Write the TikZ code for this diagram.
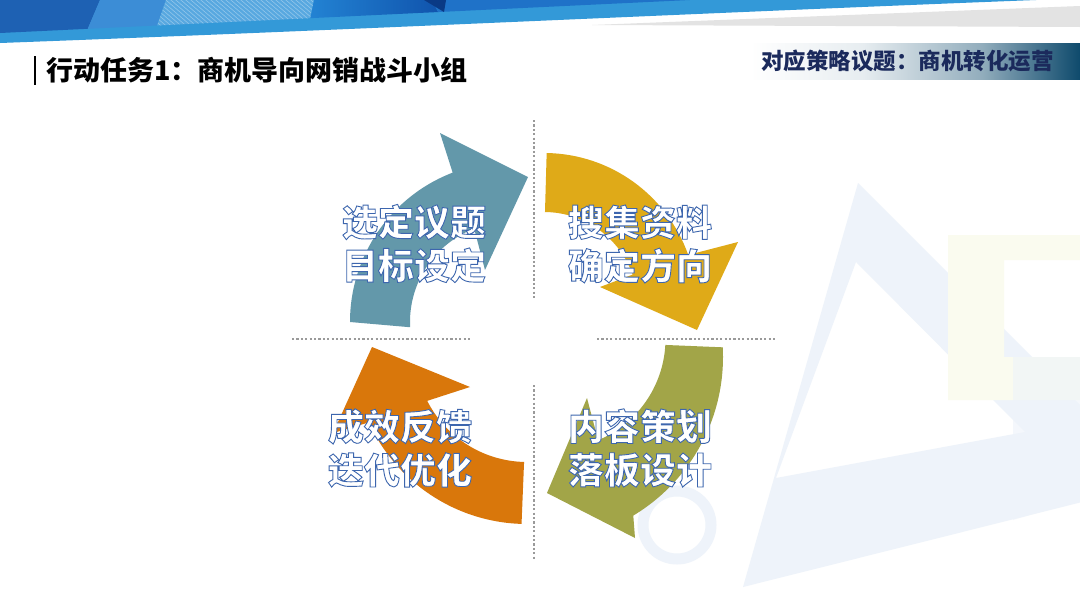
\documentclass[tikz,border=0pt]{standalone}
\usepackage{fontspec}
\newfontfamily\cjk{Noto Sans CJK SC}
\definecolor{cblue}{HTML}{6398AA}
\definecolor{cgold}{HTML}{DFAA18}
\definecolor{colive}{HTML}{A2A548}
\definecolor{corange}{HTML}{D9770B}
\definecolor{cban}{HTML}{3399D8}
\definecolor{pa}{HTML}{1E61B3}
\definecolor{pb}{HTML}{3C8DD6}
\definecolor{pc}{HTML}{58A8E0}
\definecolor{pda}{HTML}{2384D4}
\definecolor{pdb}{HTML}{0E4FA9}
\definecolor{pe}{HTML}{0A3A85}
\definecolor{pf}{HTML}{1F72C8}
\definecolor{cgray}{HTML}{E3E3E3}
\definecolor{hdrc}{HTML}{0E4A6C}
\definecolor{chdr}{HTML}{1B2A5C}
\definecolor{cdot}{HTML}{9A9A9A}
\definecolor{cwm}{HTML}{EEF3FA}
\definecolor{cwmy}{HTML}{FAFBEF}
\pgfdeclarehorizontalshading{hdrshade}{100bp}{color(0bp)=(white); color(25bp)=(white); color(42bp)=(hdrc!10!white); color(60bp)=(hdrc!45!white); color(75bp)=(hdrc); color(100bp)=(hdrc)}
% outlined text: white fill, blue stroke (text render mode 2)
\newcommand\outlon{\special{pdf:literal direct 0.239 0.40 0.682 RG 2 Tr 0.9 w}}
\newcommand\outloff{\special{pdf:literal direct 0 Tr}}
\tikzset{
  dotline/.style={draw=cdot, line width=2.6pt, dash pattern=on 2.2pt off 2.2pt},
  watext/.style={font={\cjk\bfseries\fontsize{36}{43.5}\selectfont}, align=center, inner sep=0pt, text=white},
  hatchline/.style={draw=white, draw opacity=0.35, line width=0.6pt},
}
\begin{document}
\begin{tikzpicture}[x=1pt,y=-1pt]
\useasboundingbox (0,0) rectangle (1080,608);
\fill[white] (0,0) rectangle (1080,608);

% ---------- top banner ----------
\begin{scope}
  \clip (0,0) -- (1036,0) .. controls (700,13) and (350,30) .. (0,43) -- cycle;
  \fill[cban] (0,0) rectangle (1080,50);
  \begin{scope}
    \clip (0,0) -- (690,0) -- (0,33) -- cycle;
    \fill[pa] (0,0) -- (100,0) -- (83,40) -- (0,40) -- cycle;
    \fill[pb] (100,0) -- (166,0) -- (152,40) -- (83,40) -- cycle;
    \begin{scope}
      \clip (166,0) -- (314,0) -- (306,40) -- (152,40) -- cycle;
      \fill[pc] (150,0) rectangle (320,40);
      \foreach \i in {100,105,...,330} \draw[hatchline] (\i,-5) -- ++(47,40);
    \end{scope}
    \shade[left color=pda, right color=pdb] (314,0) -- (432,0) -- (452,40) -- (306,40) -- cycle;
    \fill[pf] (432,0) -- (690,0) -- (690,40) -- (452,40) -- cycle;
    \fill[pe] (424,0) -- (446,0) -- (444,12) -- cycle;
  \end{scope}
\end{scope}
\fill[cgray] (592,25) -- (1080,6) -- (1080,27) -- cycle;

% ---------- header ----------
\shade[shading=hdrshade] (750,43) rectangle (1080,79);
\node[anchor=east, inner sep=0pt, text=chdr, font={\cjk\bfseries\fontsize{22.5}{22.5}\selectfont}] (hdr) at (1054,61) {对应策略议题：商机转化运营};

\coordinate (barT) at (35,56);
\coordinate (barB) at (35,85);
\draw[line width=2.2pt] (barT) -- (barB);
\node[anchor=west, inner sep=0pt, font={\cjk\bfseries\fontsize{27}{27}\selectfont}] (title) at (46,70) {行动任务1：商机导向网销战斗小组};

% ---------- watermark ----------
\fill[cwm, even odd rule] (858,183) -- (743,587) -- (1158,483) -- cycle
  (856,262) -- (776,478) -- (1025,432) -- cycle;
\fill[cwmy, even odd rule] (948,235) rectangle (1080,400) (1004,260) rectangle (1080,357);
\fill[cwm, opacity=0.6] (1013,357) -- (1080,357) -- (1080,500) -- (1013,520) -- cycle;
\draw[cwm, line width=11pt] (677,525) circle[radius=34];

% ---------- dotted guides ----------
\coordinate (vt1) at (534,120); \coordinate (vt2) at (534,298);
\coordinate (vb1) at (534,385); \coordinate (vb2) at (534,560);
\coordinate (hl1) at (292,339); \coordinate (hl2) at (472,339);
\coordinate (hr1) at (597,339); \coordinate (hr2) at (777,339);
\draw[dotline] (vt1) -- (vt2);
\draw[dotline] (vb1) -- (vb2);
\draw[dotline] (hl1) -- (hl2);
\draw[dotline] (hr1) -- (hr2);

% ---------- arrows ----------
\fill[cblue] ([shift={(180:160)}]510,322) arc[start angle=180, end angle=249, radius=160]
  -- (440,133) -- (528,177) -- (485,270)
  -- ([shift={(249:100)}]510,322) arc[start angle=249, end angle=177, radius=100] -- cycle;
\fill[cgold] ([shift={(271:153)}]544,306) arc[start angle=271, end angle=340.5, radius=153]
  -- (738,242) -- (697,330) -- (600,287)
  -- ([shift={(340.5:94)}]544,306) arc[start angle=340.5, end angle=270.6, radius=94] -- cycle;
\fill[colive] ([shift={(-3:185)}]538,357) arc[start angle=-3, end angle=59, radius=185]
  -- (635,538) -- (547,493) -- (587,398)
  -- ([shift={(67.2:110)}]555.5,338.8) arc[start angle=67.2, end angle=3.2, radius=110] -- cycle;
\fill[corange] ([shift={(91.8:174)}]527,350) arc[start angle=91.8, end angle=155.4, radius=174]
  -- (333,433) -- (372,347) -- (470,387)
  -- ([shift={(153:112)}]527,350) arc[start angle=153, end angle=91.5, radius=112] -- cycle;

% ---------- labels ----------
\node[watext] (tb) at (414,243.5) {\outlon 选定议题\\目标设定\outloff};
\node[watext] (ty) at (640,244) {\outlon 搜集资料\\确定方向\outloff};
\node[watext] (tg) at (640,448) {\outlon 内容策划\\落板设计\outloff};
\node[watext] (to) at (400,448) {\outlon 成效反馈\\迭代优化\outloff};
\end{tikzpicture}
\end{document}
